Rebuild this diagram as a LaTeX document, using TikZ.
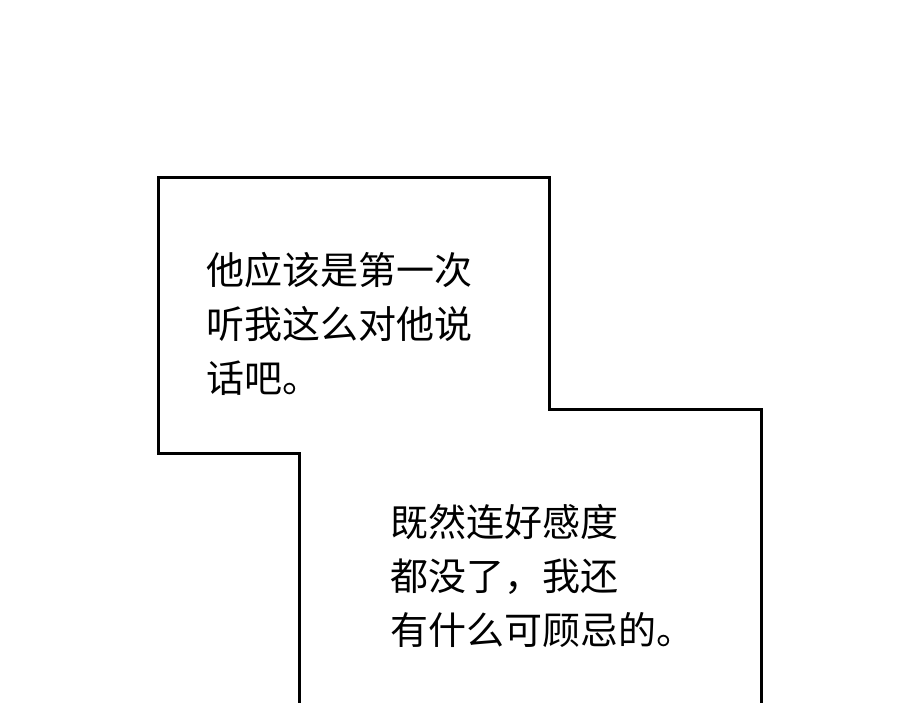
\documentclass[tikz,border=0pt]{standalone}
\usepackage{fontspec}
\newfontfamily\cjk{Noto Sans CJK SC}
\tikzset{
  talk/.style={font=\cjk\fontsize{38}{54}\selectfont, align=left, anchor=west, inner sep=0pt}
}
\begin{document}
\begin{tikzpicture}[x=1pt,y=-1pt]
  \useasboundingbox (0,0) rectangle (900,703);
  % outline of the two boxes
  \draw[line width=3pt] (299,706) -- (299,453) -- (158,453) -- (158,178) -- (549,178)
        -- (549,409) -- (761,409) -- (761,706);
  \node[talk] (first) at (206,324) {他应该是第一次\\听我这么对他说\\话吧。};
  \node[talk] (second) at (390,576) {既然连好感度\\都没了，我还\\有什么可顾忌的。};
\end{tikzpicture}
\end{document}
